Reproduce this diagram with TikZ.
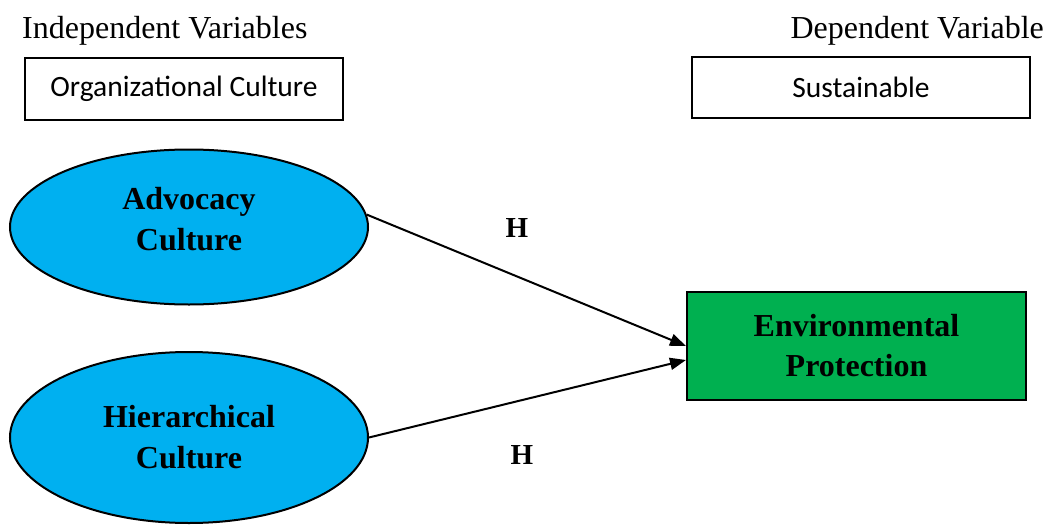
\documentclass[tikz,border=0pt]{standalone}
\usepackage{fontspec}
\setmainfont{Liberation Serif}
\newfontfamily\calfont{Carlito}
\usetikzlibrary{shapes.geometric,arrows.meta,calc}
\definecolor{cyanfill}{HTML}{00B0F0}
\definecolor{greenfill}{HTML}{00B050}
\begin{document}
\begin{tikzpicture}[x=1pt,y=-1pt,
  heading/.style={font=\fontsize{32}{36}\selectfont, inner sep=0pt, anchor=base west},
  labelbox/.style={draw, line width=2pt, inner sep=0pt, font=\calfont\fontsize{29.5}{34}\selectfont},
  culture/.style={ellipse, draw, line width=2pt, fill=cyanfill, inner sep=0pt, align=center,
     font=\bfseries\fontsize{32}{41}\selectfont},
  outcome/.style={draw, line width=2pt, fill=greenfill, inner sep=0pt, align=center,
     font=\bfseries\fontsize{32}{40}\selectfont},
  hyp/.style={font=\bfseries\fontsize{29}{32}\selectfont, inner sep=0pt},
  link/.style={line width=2pt, -{Triangle[length=16pt,width=12pt]}}]
\useasboundingbox (0,0) rectangle (1050,525);
\node[heading] (iv) at (22,38) {Independent Variables};
\node[heading, anchor=base east] (dv) at (1044,38) {Dependent Variable};
\node[labelbox, minimum width=318, minimum height=62] (oc) at (184,89) {Organizational Culture};
\node[labelbox, minimum width=338, minimum height=61] (su) at (861,87.5) {Sustainable};
\node[culture, minimum width=358, minimum height=155, text depth=16pt] (adv) at (189,227) {Advocacy\\Culture};
\node[culture, minimum width=358, minimum height=171] (hier) at (189,437.5) {Hierarchical\\Culture};
\node[outcome, minimum width=339, minimum height=108] (env) at (856.5,346) {Environmental\\Protection};
\draw[link] (adv.4) -- (env.west);
\draw[link] (hier.east) -- ($(env.west)+(0,14)$);
\node[hyp] (h1) at (517,228) {H};
\node[hyp] (h2) at (522,455) {H};
\end{tikzpicture}
\end{document}
